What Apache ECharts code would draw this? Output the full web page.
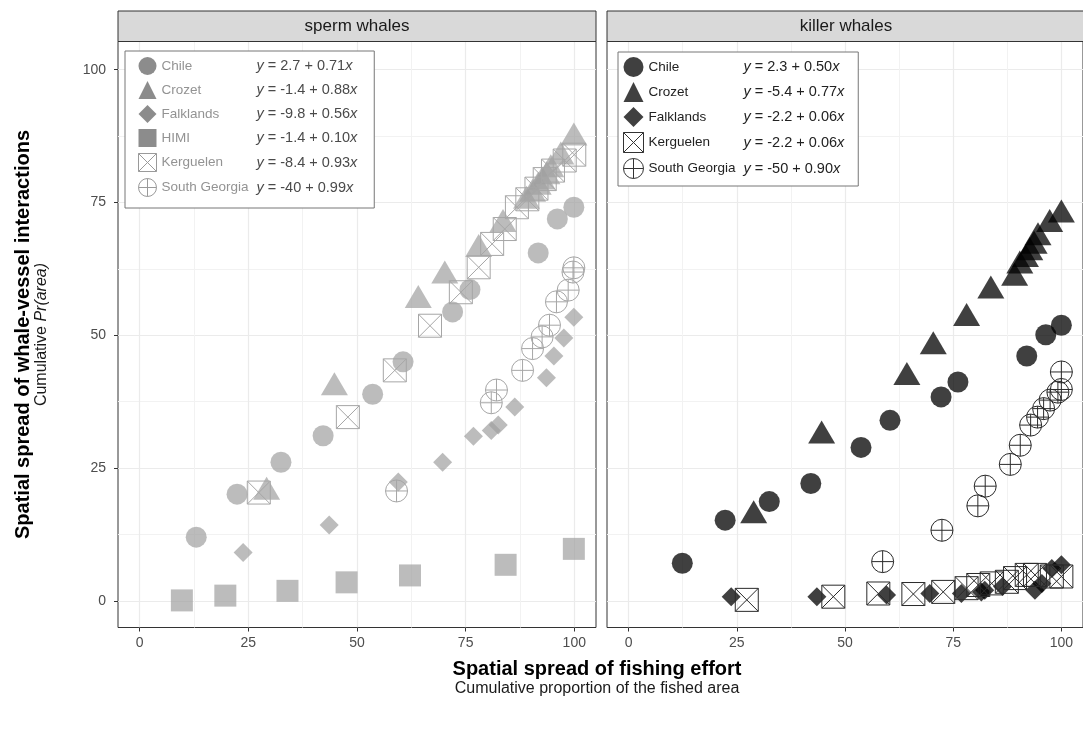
<!DOCTYPE html>
<html><head><meta charset="utf-8">
<script src="https://cdn.jsdelivr.net/npm/echarts@6/dist/echarts.min.js"></script>
<style>html,body{margin:0;padding:0;background:#fff}#c{width:1083px;height:731px}</style>
</head><body><div id="c"></div>
<script>
// ---- data ----
const panels = ['sperm whales', 'killer whales'];
const majorTicks = [0, 25, 50, 75, 100];
const minorTicks = [12.5, 37.5, 62.5, 87.5];
const regions = ['Chile', 'Crozet', 'Falklands', 'HIMI', 'Kerguelen', 'South Georgia'];

const spermChile = [[13.0,12.0],[22.4,20.1],[32.5,26.1],[42.2,31.1],[53.6,38.9],[60.6,45.0],[72.0,54.4],[76.0,58.6],[91.7,65.5],[96.1,71.9],[99.9,74.1]];
const spermCrozet = [[29.2,21.2],[44.8,40.9],[64.1,57.3],[70.2,61.9],[78.0,66.9],[83.6,71.6],[89.0,76.0],[90.4,77.3],[91.7,78.6],[92.6,79.6],[93.7,80.6],[94.6,81.9],[96.9,84.3],[99.9,87.9]];
const spermFalklands = [[23.8,9.1],[43.6,14.3],[59.5,22.4],[69.7,26.1],[76.8,31.0],[80.9,32.1],[82.5,33.1],[86.3,36.5],[93.6,42.0],[95.3,46.1],[97.6,49.5],[99.9,53.4]];
const spermHIMI = [[9.7,0.1],[19.7,1.0],[34.0,1.9],[47.6,3.5],[62.2,4.8],[84.2,6.8],[99.9,9.8]];
const spermKerguelen = [[27.4,20.4],[47.9,34.6],[58.7,43.4],[66.8,51.8],[73.9,58.1],[78.0,62.8],[81.1,67.2],[84.0,70.0],[86.8,74.1],[89.2,75.6],[91.3,77.6],[93.2,79.4],[95.1,81.0],[97.8,82.9],[100,84.0]];
const spermSouthGeorgia = [[59.1,20.7],[80.9,37.3],[82.1,39.7],[88.1,43.4],[90.4,47.5],[92.6,49.7],[94.3,51.9],[95.9,56.3],[98.6,58.5],[99.7,61.9],[99.9,62.7]];

const killerChile = [[12.4,7.1],[22.3,15.2],[32.5,18.7],[42.1,22.1],[53.7,28.9],[60.4,34.0],[72.2,38.4],[76.1,41.2],[92.0,46.1],[96.4,50.1],[100,51.9]];
const killerCrozet = [[28.9,16.8],[44.6,31.8],[64.3,42.8],[70.4,48.6],[78.1,53.9],[83.7,59.1],[89.2,61.5],[90.4,63.8],[91.7,65.0],[92.7,66.3],[93.7,67.5],[94.6,69.1],[97.3,71.6],[100,73.4]];
const killerFalklands = [[23.7,0.8],[43.5,0.8],[59.6,1.1],[69.6,1.4],[76.9,1.4],[81.5,1.7],[82.3,2.0],[86.4,2.7],[93.9,2.0],[95.5,3.3],[97.8,6.1],[100,6.8]];
const killerKerguelen = [[27.3,0.2],[47.3,0.8],[57.7,1.4],[65.8,1.3],[72.7,1.7],[78.1,2.4],[80.8,3.0],[83.9,3.3],[87.4,3.6],[89.3,4.3],[92.0,4.9],[93.9,4.9],[97.8,4.6],[100,4.6]];
const killerSouthGeorgia = [[58.7,7.4],[72.4,13.3],[80.7,17.9],[82.4,21.6],[88.2,25.7],[90.5,29.3],[92.9,33.1],[94.5,34.6],[95.9,36.2],[97.4,37.8],[99.2,39.3],[100,39.8],[100,43.1]];

const spermEquations = ['2.7 + 0.71', '-1.4 + 0.88', '-9.8 + 0.56', '-1.4 + 0.10', '-8.4 + 0.93', '-40 + 0.99'];
const killerEquations = ['2.3 + 0.50', '-5.4 + 0.77', '-2.2 + 0.06', null, '-2.2 + 0.06', '-50 + 0.90'];

const spermData = [spermChile, spermCrozet, spermFalklands, spermHIMI, spermKerguelen, spermSouthGeorgia];
const killerData = [killerChile, killerCrozet, killerFalklands, null, killerKerguelen, killerSouthGeorgia];

// ---- styling ----
const FONT = 'Liberation Sans, Arial, sans-serif';
const SQ_CROSS = 'path://M0,0L20,0L20,20L0,20Z M0,0L20,20 M20,0L0,20';
const CIRC_PLUS = 'path://M0,10A10,10,0,1,1,20,10A10,10,0,1,1,0,10Z M10,0L10,20 M0,10L20,10';
const shapes = [
  {symbol: 'circle', size: 21, hollow: false},
  {symbol: 'triangle', size: [27, 23], hollow: false},
  {symbol: 'diamond', size: [19, 19], hollow: false},
  {symbol: 'rect', size: 22, hollow: false},
  {symbol: SQ_CROSS, size: 23, hollow: true},
  {symbol: CIRC_PLUS, size: 22, hollow: true}
];
const ZW = '\u200b';
const panelStyle = [
  {fill: '#9f9f9f', fillOp: 0.7, stroke: '#a6a6a6', legendFill: '#8c8c8c', legendStroke: '#9a9a9a', labelColor: '#939393', eqColor: '#4a4a4a', suffix: ''},
  {fill: '#000000', fillOp: 0.75, stroke: '#2a2a2a', legendFill: '#404040', legendStroke: '#333333', labelColor: '#222222', eqColor: '#222222', suffix: ZW}
];

const GRID_TOP = 41.5, GRID_H = 586, GRID_W = 478;
const gridLefts = [118, 607];
const XMIN = -5, XMAX = 105, YMIN = -5, YMAX = 105.3;

const grids = [], xAxes = [], yAxes = [], series = [], legends = [], graphics = [];
const nameInfo = {};

panels.forEach((p, gi) => {
  grids.push({left: gridLefts[gi], top: GRID_TOP, width: GRID_W, height: GRID_H, show: true,
    borderColor: '#333', borderWidth: 1, backgroundColor: '#fff'});
  // major x axis
  xAxes.push({type: 'value', gridIndex: gi, min: XMIN, max: XMAX, position: 'bottom',
    axisLine: {show: false, onZero: false},
    axisTick: {show: true, customValues: majorTicks, length: 4, lineStyle: {color: '#333'}},
    axisLabel: {customValues: majorTicks, color: '#4d4d4d', fontSize: 14, margin: 9, fontFamily: FONT},
    splitLine: {show: true, lineStyle: {color: '#ebebeb', width: 1.2}}
  });
  // minor x axis (grid lines only)
  xAxes.push({type: 'value', gridIndex: gi, min: XMIN, max: XMAX, position: 'top',
    axisLine: {show: false, onZero: false}, axisTick: {show: false, customValues: minorTicks},
    axisLabel: {show: false}, splitLine: {show: true, lineStyle: {color: '#f2f2f2', width: 1}}
  });
  yAxes.push({type: 'value', gridIndex: gi, min: YMIN, max: YMAX, position: 'left',
    axisLine: {show: false, onZero: false},
    axisTick: {show: gi === 0, customValues: majorTicks, length: 4, lineStyle: {color: '#333'}},
    axisLabel: {show: gi === 0, customValues: majorTicks, color: '#4d4d4d', fontSize: 14, margin: 12, fontFamily: FONT},
    splitLine: {show: true, lineStyle: {color: '#ebebeb', width: 1.2}},
    name: gi === 0 ? '{b|Spatial spread of whale-vessel interactions}\n{s|Cumulative }{si|Pr(area)}' : '',
    nameLocation: 'middle', nameRotate: 90, nameGap: 68,
    nameTextStyle: {rich: {
      b: {fontSize: 20, fontWeight: 'bold', color: '#000', lineHeight: 21, fontFamily: FONT},
      s: {fontSize: 16, color: '#1a1a1a', lineHeight: 16, fontFamily: FONT},
      si: {fontSize: 16, color: '#1a1a1a', fontStyle: 'italic', lineHeight: 16, fontFamily: FONT}
    }}
  });
  yAxes.push({type: 'value', gridIndex: gi, min: YMIN, max: YMAX, position: 'right',
    axisLine: {show: false, onZero: false}, axisTick: {show: false, customValues: minorTicks},
    axisLabel: {show: false}, splitLine: {show: true, lineStyle: {color: '#f2f2f2', width: 1}}
  });

  const st = panelStyle[gi];
  const dataSets = gi === 0 ? spermData : killerData;
  const eqs = gi === 0 ? spermEquations : killerEquations;
  const legendData = [];
  regions.forEach((r, ri) => {
    const d = dataSets[ri];
    if (!d) return;
    const sh = shapes[ri];
    const name = r + st.suffix;
    nameInfo[name] = {label: r, eq: eqs[ri]};
    series.push({
      type: 'scatter', name: name, xAxisIndex: gi * 2, yAxisIndex: gi * 2,
      data: d, symbol: sh.symbol, symbolSize: sh.size,
      itemStyle: sh.hollow
        ? {color: 'rgba(0,0,0,0)', borderColor: st.stroke, borderWidth: 1, opacity: 1}
        : {color: st.fill, opacity: st.fillOp},
      emphasis: {disabled: true}, z: 2 + ri
    });
    legendData.push({
      name: name, icon: sh.symbol,
      itemStyle: sh.hollow
        ? {color: 'rgba(0,0,0,0)', borderColor: st.legendStroke, borderWidth: 1, opacity: 1}
        : {color: st.legendFill, borderWidth: 0, opacity: 1}
    });
  });
  const lc = st.labelColor, ec = st.eqColor;
  legends.push({
    orient: 'vertical', selectedMode: false,
    left: gi === 0 ? 125 : 618, top: gi === 0 ? 51 : 52,
    padding: gi === 0 ? [6, 17, 11, 13] : [5, 14, 7, 5],
    itemWidth: gi === 0 ? 18 : 20, itemHeight: gi === 0 ? 18 : 20, itemGap: gi === 0 ? 6 : 5,
    backgroundColor: '#fff', borderColor: '#777', borderWidth: 1, borderRadius: 0,
    data: legendData,
    formatter: (n) => `{n|${nameInfo[n].label}}{i|y}{e| = ${nameInfo[n].eq}}{i|x}`,
    textStyle: {rich: {
      n: {width: 95, fontSize: 13.5, color: lc, fontFamily: FONT},
      i: {fontSize: 14.5, fontStyle: 'italic', color: ec, fontFamily: FONT},
      e: {fontSize: 14.5, color: ec, fontFamily: FONT}
    }}
  });
  // facet strip
  graphics.push({type: 'rect', shape: {x: gridLefts[gi], y: 11, width: GRID_W, height: GRID_TOP - 11},
    style: {fill: '#d9d9d9', stroke: '#333', lineWidth: 1}, z: 10});
  graphics.push({type: 'text', x: gridLefts[gi] + GRID_W / 2, y: (11 + GRID_TOP) / 2 + 0.5, z: 11,
    style: {text: p, fill: '#1a1a1a', fontSize: 17, fontFamily: FONT,
      align: 'center', verticalAlign: 'middle'}});
});

const chart = echarts.init(document.getElementById('c'), null, {renderer: 'canvas'});
chart.setOption({
  animation: false,
  backgroundColor: '#fff',
  title: [{
    text: 'Spatial spread of fishing effort',
    subtext: 'Cumulative proportion of the fished area',
    left: 597, top: 659, textAlign: 'center', padding: 0, itemGap: 2,
    textStyle: {fontSize: 20, fontWeight: 'bold', color: '#000', fontFamily: FONT},
    subtextStyle: {fontSize: 16, color: '#1a1a1a', fontFamily: FONT}
  }],
  grid: grids, xAxis: xAxes, yAxis: yAxes, series: series, legend: legends,
  graphic: graphics
});
</script></body></html>
